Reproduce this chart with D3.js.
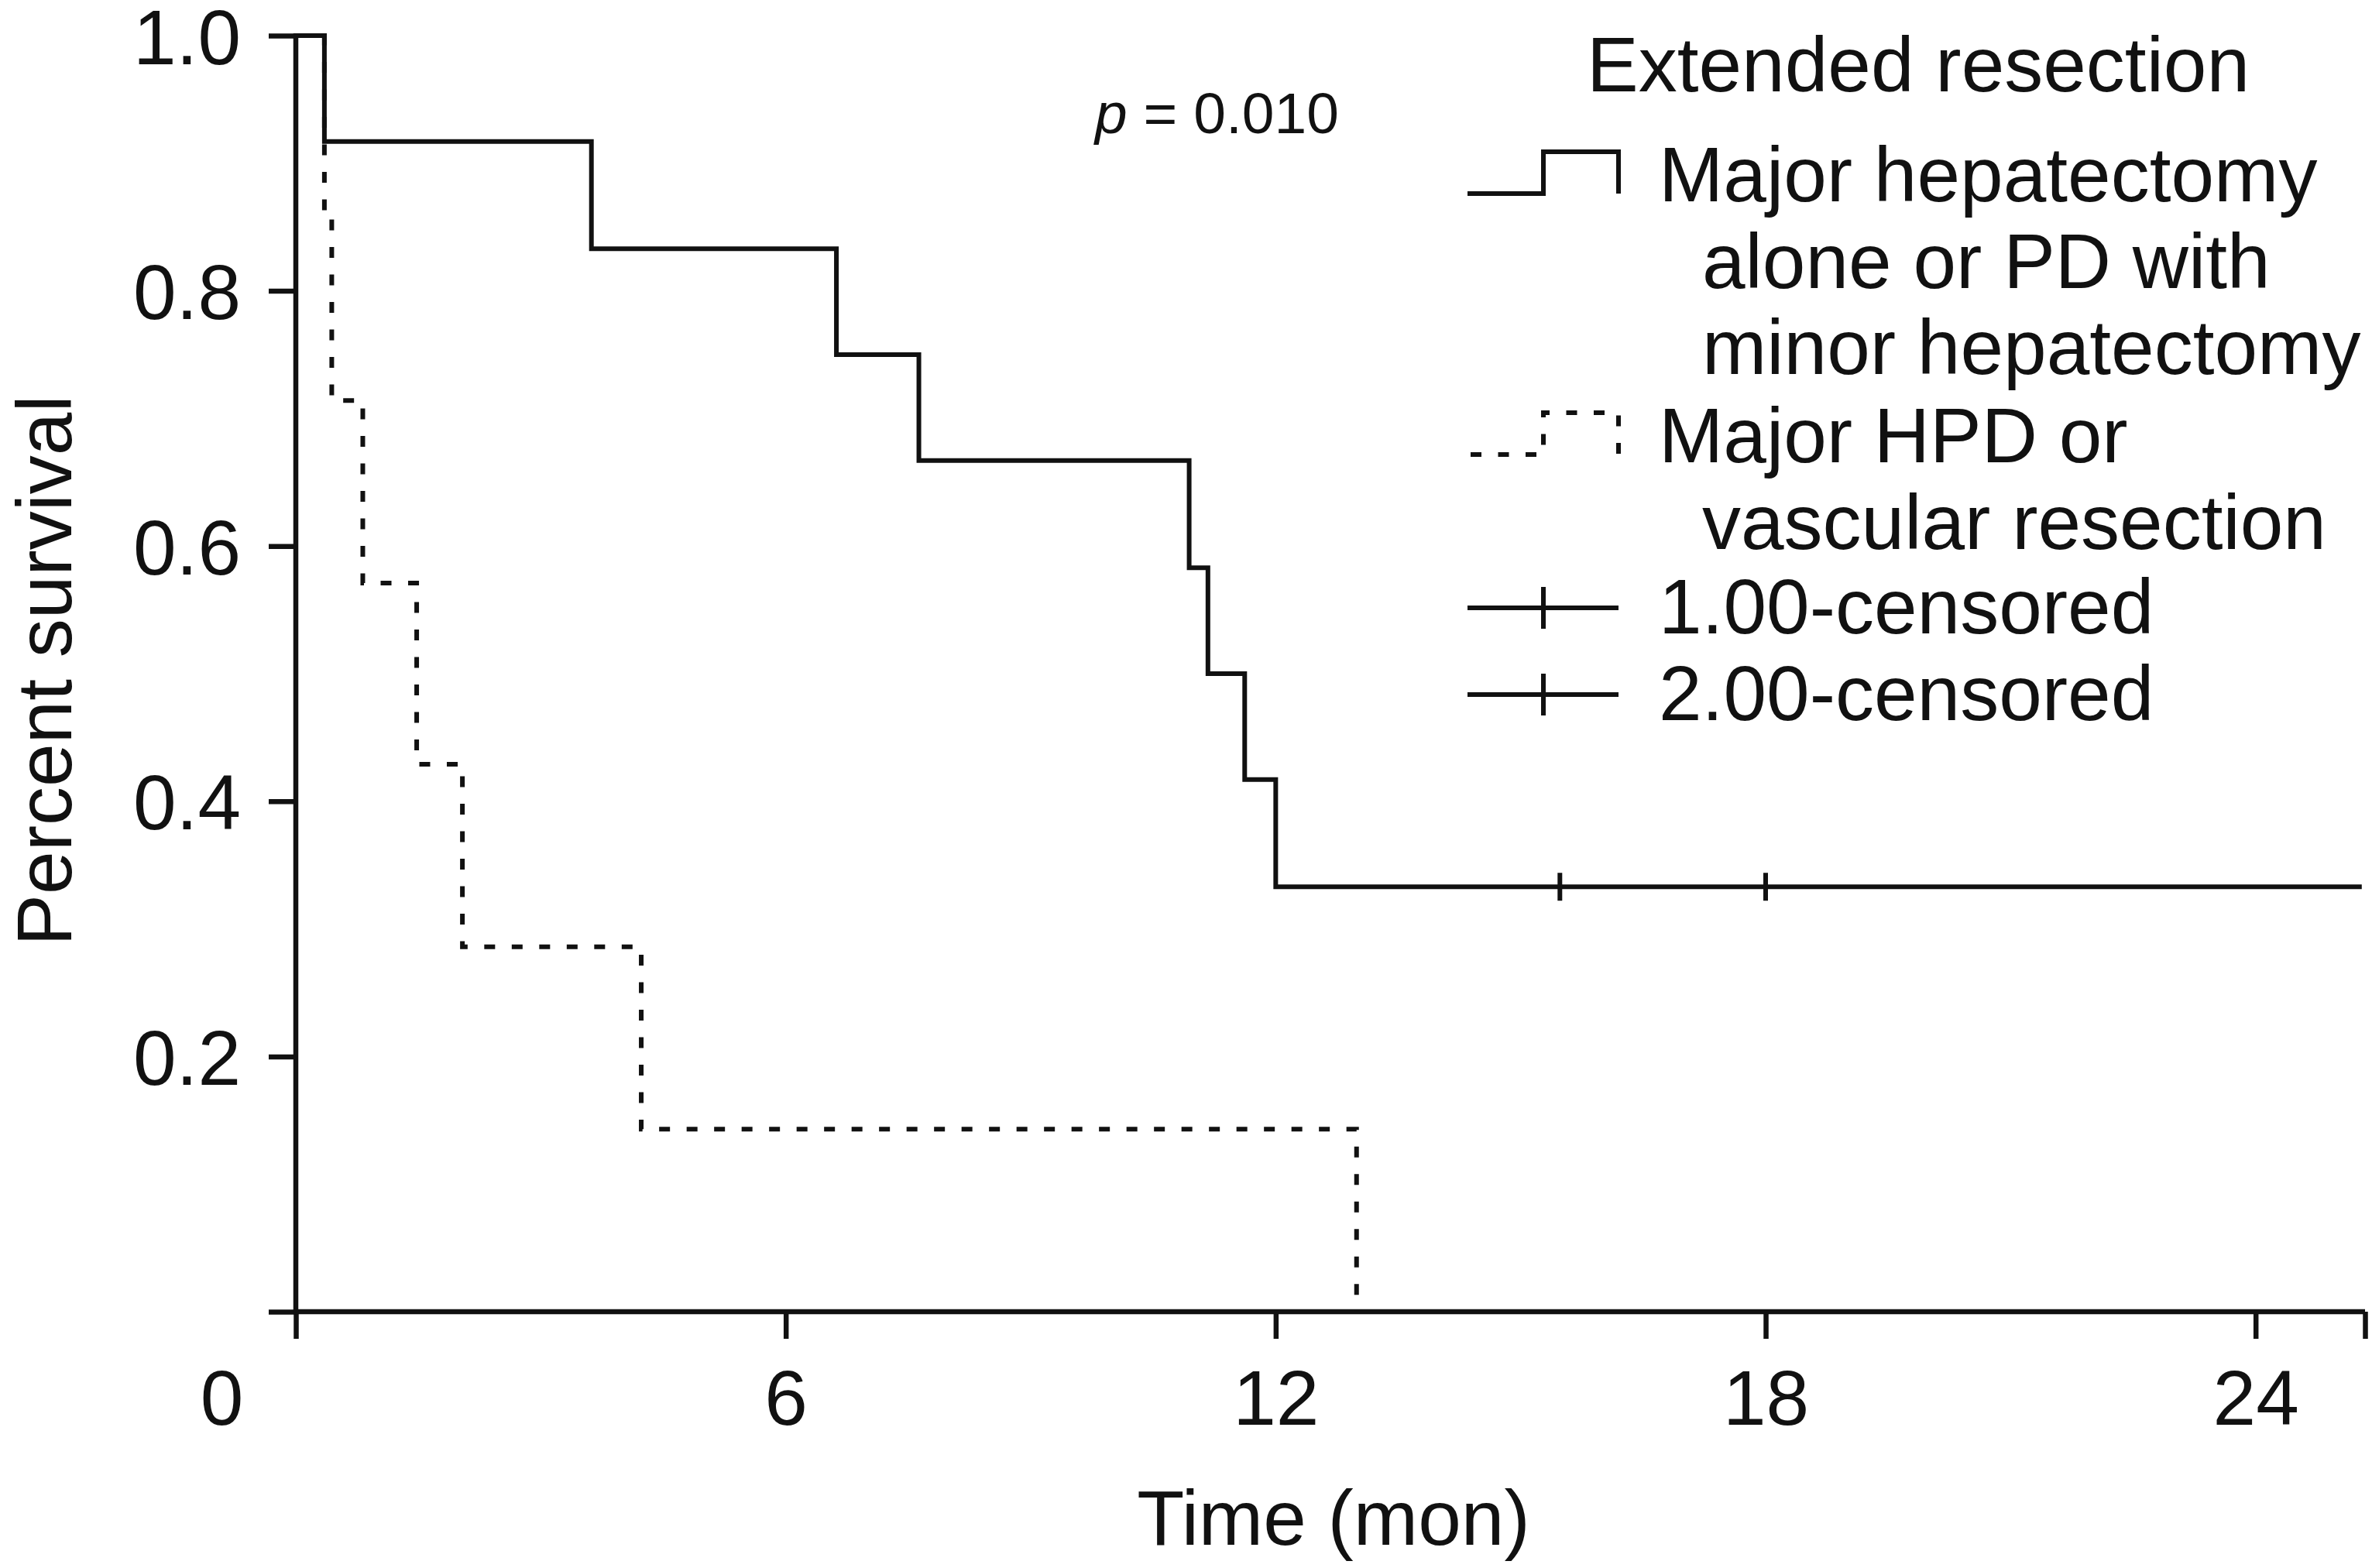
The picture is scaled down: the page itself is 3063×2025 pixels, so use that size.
<!DOCTYPE html>
<html>
<head>
<meta charset="utf-8">
<script src="https://cdn.jsdelivr.net/npm/d3@7"></script>
<style>
  html, body { margin: 0; padding: 0; background: #fff; }
  svg { display: block; }
  text { font-family: "Liberation Sans", Arial, Helvetica, sans-serif; fill: #111; }
</style>
</head>
<body>
<svg id="chart" width="3063" height="2025"></svg>
<script>
// ---------------- data ----------------
// Group 1: Major hepatectomy alone or PD with minor hepatectomy (solid)
const timesA = [0, 0.35, 3.62, 6.62, 7.63, 10.94, 11.17, 11.62, 12.0];
const survA  = [1.0, 0.917, 0.833, 0.75, 0.667, 0.583, 0.5, 0.417, 0.333];
const endTimeA = 25.3;
const censorTimesA = [15.48, 18.0];
// Group 2: Major HPD or vascular resection (dashed)
const timesB = [0, 0.35, 0.44, 0.82, 1.48, 2.04, 4.23, 12.99];
const survB  = [1.0, 0.857, 0.714, 0.571, 0.429, 0.286, 0.143, 0.0];

const xTicks = [0, 6, 12, 18, 24];
const xTickLabels = ["0", "6", "12", "18", "24"];
const yTicks = [0, 0.2, 0.4, 0.6, 0.8, 1.0];
const yTickLabels = ["", "0.2", "0.4", "0.6", "0.8", "1.0"];
const xMax = 25.34;

const legendTitle = "Extended resection";
const legendLabels = [
  ["Major hepatectomy", "alone or PD with", "minor hepatectomy"],
  ["Major HPD or", "vascular resection"],
  ["1.00-censored"],
  ["2.00-censored"]
];
const pText = "= 0.010";
const xTitle = "Time (mon)";
const yTitle = "Percent survival";

// ---------------- layout ----------------
const INK = "#111";
const svg = d3.select("#chart");
const x = d3.scaleLinear().domain([0, xMax]).range([382, 3054]);
const y = d3.scaleLinear().domain([0, 1]).range([1694, 46]);
const FONT = 100;
const DASH = "14,21.5";

// axes
const yAxis = d3.axisLeft(y).tickValues(yTicks).tickSize(35).tickPadding(36)
  .tickFormat((d, i) => yTickLabels[i]);
const gy = svg.append("g").attr("transform", `translate(${x(0)},0)`).call(yAxis);
gy.select(".domain").remove();
gy.selectAll(".tick line").attr("stroke", INK).attr("stroke-width", 6.5);
gy.selectAll(".tick text").attr("font-size", FONT).attr("dy", "0.36em")
  .attr("fill", INK).style("font-family", "'Liberation Sans', Arial, sans-serif");

const xAxisTicks = xTicks.concat([xMax]);
const xAxis = d3.axisBottom(x).tickValues(xAxisTicks).tickSize(35)
  .tickFormat((d, i) => i < xTickLabels.length ? xTickLabels[i] : "");
const gx = svg.append("g").attr("transform", `translate(0,${y(0)})`).call(xAxis);
gx.select(".domain").remove();
gx.selectAll(".tick line").attr("stroke", INK).attr("stroke-width", 6.5);
gx.selectAll(".tick text").attr("font-size", FONT).attr("y", 146).attr("dy", 0)
  .attr("fill", INK).style("font-family", "'Liberation Sans', Arial, sans-serif")
  .attr("dx", d => d === 0 ? -96 : 0);

// axis lines
svg.append("line").attr("x1", x(0)).attr("x2", x(0)).attr("y1", y(1) - 3).attr("y2", y(0) + 3)
  .attr("stroke", INK).attr("stroke-width", 6.5);
svg.append("line").attr("x1", x(0) - 3).attr("x2", x(xMax)).attr("y1", y(0)).attr("y2", y(0))
  .attr("stroke", INK).attr("stroke-width", 6.5);

// survival curves
const step = d3.line().x(d => x(d[0])).y(d => y(d[1])).curve(d3.curveStepAfter);
const ptsA = timesA.map((t, i) => [t, survA[i]]).concat([[endTimeA, survA[survA.length - 1]]]);
const ptsB = timesB.map((t, i) => [t, survB[i]]);

svg.append("path").attr("d", step(ptsB)).attr("fill", "none").attr("stroke", INK)
  .attr("stroke-width", 6).attr("stroke-dasharray", DASH);
svg.append("path").attr("d", step(ptsA)).attr("fill", "none").attr("stroke", INK)
  .attr("stroke-width", 6);

// censor marks
svg.selectAll(".cens").data(censorTimesA).enter().append("line")
  .attr("x1", d => x(d)).attr("x2", d => x(d))
  .attr("y1", y(survA[survA.length - 1]) - 18).attr("y2", y(survA[survA.length - 1]) + 18)
  .attr("stroke", INK).attr("stroke-width", 6);

// p value
const pt = svg.append("text").attr("x", 1414).attr("y", 172).attr("font-size", 75);
pt.append("tspan").attr("font-style", "italic").text("p");
pt.append("tspan").text(" " + pText);

// axis titles
svg.append("text").attr("x", 1722).attr("y", 1995).attr("text-anchor", "middle")
  .attr("font-size", FONT).text(xTitle);
svg.append("text").attr("transform", "translate(92,866) rotate(-90)")
  .attr("text-anchor", "middle").attr("font-size", FONT).text(yTitle);

// legend
const lg = svg.append("g");
lg.append("text").attr("x", 2049).attr("y", 118).attr("font-size", FONT).text(legendTitle);
const rowBase = [260, 597, 818, 930];
const rowGap = 111.5;
legendLabels.forEach((lines, k) => {
  lines.forEach((s, j) => {
    lg.append("text").attr("x", j === 0 ? 2142 : 2198).attr("y", rowBase[k] + j * rowGap)
      .attr("font-size", FONT).text(s);
  });
});
const symLine = d3.line();
const x0 = 1895, xm = 1993, x1 = 2090;
function stepSym(b) { return [[x0, b - 10], [xm, b - 10], [xm, b - 64], [x1, b - 64], [x1, b - 10]]; }
lg.append("path").attr("d", symLine(stepSym(rowBase[0]))).attr("fill", "none")
  .attr("stroke", INK).attr("stroke-width", 6);
lg.append("path").attr("d", symLine(stepSym(rowBase[1]))).attr("fill", "none")
  .attr("stroke", INK).attr("stroke-width", 6).attr("stroke-dasharray", DASH)
  .attr("stroke-dashoffset", -4);
[rowBase[2], rowBase[3]].forEach(b => {
  lg.append("line").attr("x1", x0).attr("x2", x1).attr("y1", b - 33).attr("y2", b - 33)
    .attr("stroke", INK).attr("stroke-width", 6);
  lg.append("line").attr("x1", xm).attr("x2", xm).attr("y1", b - 60).attr("y2", b - 6)
    .attr("stroke", INK).attr("stroke-width", 6);
});
</script>
</body>
</html>
